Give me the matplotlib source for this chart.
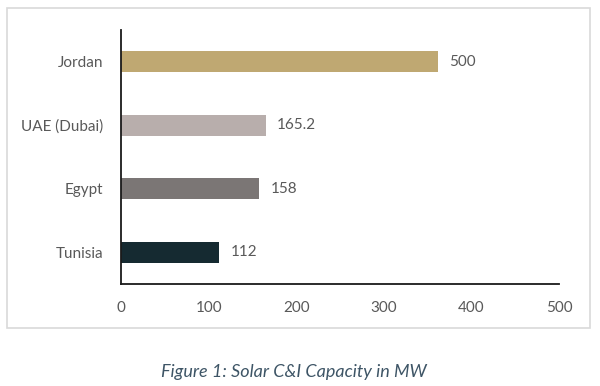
import matplotlib
matplotlib.use("Agg")
import matplotlib.pyplot as plt
from matplotlib.patches import Rectangle

categories = ["Tunisia", "Egypt", "UAE (Dubai)", "Jordan"]
bar_values = [112, 158, 165.2, 362]   # drawn bar lengths
value_labels = ["112", "158", "165.2", "500"]
colors = ["#152A31", "#7B7675", "#B8AEAC", "#BFA872"]
xticks = [0, 100, 200, 300, 400, 500]

plt.rcParams['font.family'] = ['Lato', 'DejaVu Sans']

fig = plt.figure(figsize=(6, 3.86), dpi=100)
ax = fig.add_axes([121/600, 1-284/386, (559-121)/600, (284-30)/386])

ypos = list(range(len(categories)))
ax.barh(ypos, bar_values, height=0.33, color=colors)
for y, v, lab in zip(ypos, bar_values, value_labels):
    ax.text(v + 13, y, lab, va='center', ha='left', fontsize=11, color='#595959')

ax.set_xlim(0, 500)
ax.set_ylim(-0.5, 3.5)
ax.set_xticks(xticks)
ax.set_xticklabels([str(t) for t in xticks])
ax.set_yticks(ypos)
ax.set_yticklabels(categories)
ax.tick_params(axis='both', length=0, labelsize=11, labelcolor='#595959')
ax.tick_params(axis='x', pad=12)
ax.tick_params(axis='y', pad=13)
for s in ['top', 'right']:
    ax.spines[s].set_visible(False)
for s in ['left', 'bottom']:
    ax.spines[s].set_color('#1a1a1a')
    ax.spines[s].set_linewidth(1.3)

fig.patches.append(Rectangle((7/600, 1-328/386), (590-7)/600, (328-8)/386,
                             transform=fig.transFigure, fill=False,
                             edgecolor='#D9D9D9', linewidth=1.2))

fig.text(294/600, 1-372/386, "Figure 1: Solar C&I Capacity in MW", ha='center', va='center',
         fontsize=13, style='italic', color='#3E5566')

fig.savefig("out.png", dpi=100, facecolor='white')
